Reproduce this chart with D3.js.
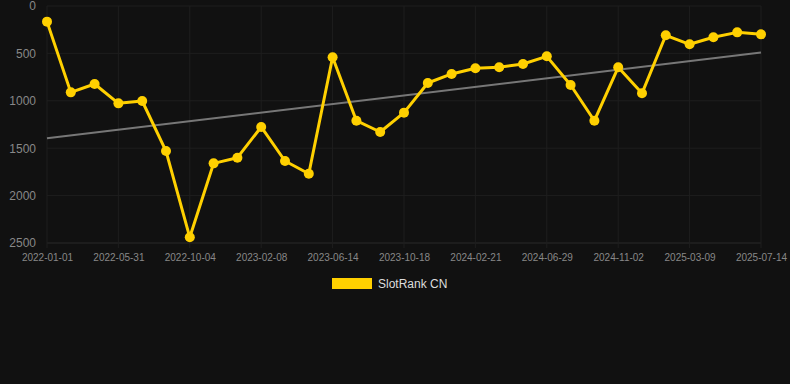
<!DOCTYPE html>
<html>
<head>
<meta charset="utf-8">
<script src="https://cdnjs.cloudflare.com/ajax/libs/d3/7.8.5/d3.min.js"></script>
<style>
    body { margin: 0; background: #111111; }
    svg { display: block; font-family: "Liberation Sans", Arial, sans-serif; }
</style>
</head>
<body>
<svg id="drawing_region"></svg>
<script>
// category dates (only every third one is labelled on the axis)
const dates = [
    "2022-01-01", "2022-02-20", "2022-04-10", "2022-05-31", "2022-07-11", "2022-08-22",
    "2022-10-04", "2022-11-15", "2022-12-27", "2023-02-08", "2023-03-23", "2023-05-03",
    "2023-06-14", "2023-07-26", "2023-09-06", "2023-10-18", "2023-11-29", "2024-01-10",
    "2024-02-21", "2024-04-03", "2024-05-16", "2024-06-29", "2024-08-10", "2024-09-21",
    "2024-11-02", "2024-12-14", "2025-01-25", "2025-03-09", "2025-04-20", "2025-06-01",
    "2025-07-14"
];
const rank = [
    165, 911, 823, 1027, 1002, 1530, 2440, 1660, 1600, 1276, 1635, 1769,
    541, 1210, 1329, 1125, 812, 717, 657, 647, 612, 531, 833, 1210,
    647, 921, 309, 404, 330, 278, 299
];
const yTicks = [0, 500, 1000, 1500, 2000, 2500];
const seriesName = "SlotRank CN";

const config = {
    width: 790,
    height: 384,
    margin: {top: 6, right: 29, bottom: 141, left: 47}
};

const svg = d3.select('#drawing_region')
    .attr('width', config.width)
    .attr('height', config.height);

const inner_width = config.width - config.margin.left - config.margin.right;
const inner_height = config.height - config.margin.top - config.margin.bottom;

const chart = svg.append('g')
    .attr('transform', `translate(${config.margin.left}, ${config.margin.top})`);

const xscale = d3.scalePoint()
    .domain(dates)
    .range([0, inner_width]);

const yscale = d3.scaleLinear()
    .domain([0, 2500])
    .range([0, inner_height]);

const labelled = dates.filter((d, i) => i % 3 === 0);

// grid
chart.append('g')
    .selectAll('line')
    .data(yTicks)
    .join('line')
    .attr('x1', 0)
    .attr('x2', inner_width)
    .attr('y1', d => yscale(d))
    .attr('y2', d => yscale(d))
    .attr('stroke', d => d === 2500 ? '#2a2a2a' : '#1e1e1e')
    .attr('stroke-width', 1);

chart.append('g')
    .selectAll('line')
    .data(labelled)
    .join('line')
    .attr('x1', d => xscale(d))
    .attr('x2', d => xscale(d))
    .attr('y1', 0)
    .attr('y2', inner_height + 5)
    .attr('stroke', '#1e1e1e')
    .attr('stroke-width', 1);

// axes
const yaxis = d3.axisLeft(yscale).tickValues(yTicks).tickSize(0).tickPadding(11)
    .tickFormat(d3.format('d'));
const yaxis_group = chart.append('g').call(yaxis);
yaxis_group.select('.domain').remove();
yaxis_group.selectAll('text')
    .attr('fill', '#888888')
    .attr('font-size', '12px')
    .attr('font-family', '"Liberation Sans", Arial, sans-serif');

const xaxis = d3.axisBottom(xscale).tickValues(labelled).tickSize(0).tickPadding(11);
const xaxis_group = chart.append('g')
    .attr('transform', `translate(0, ${inner_height})`)
    .call(xaxis);
xaxis_group.select('.domain').remove();
xaxis_group.selectAll('text')
    .attr('fill', '#888888')
    .attr('font-size', '10px')
    .attr('font-family', '"Liberation Sans", Arial, sans-serif');

// trend line (least squares over the index)
const n = rank.length;
const xs = d3.range(n);
const mx = d3.mean(xs);
const my = d3.mean(rank);
const slope = d3.sum(xs, i => (i - mx) * (rank[i] - my)) / d3.sum(xs, i => (i - mx) * (i - mx));
const icpt = my - slope * mx;

chart.append('line')
    .attr('x1', xscale(dates[0]))
    .attr('x2', xscale(dates[n - 1]))
    .attr('y1', yscale(icpt))
    .attr('y2', yscale(icpt + slope * (n - 1)))
    .attr('stroke', '#777777')
    .attr('stroke-width', 2);

// series
const line = d3.line()
    .x((d, i) => xscale(dates[i]))
    .y(d => yscale(d));

chart.append('path')
    .datum(rank)
    .attr('d', line)
    .attr('fill', 'none')
    .attr('stroke', '#FFD000')
    .attr('stroke-width', 3)
    .attr('stroke-linejoin', 'round');

chart.selectAll('circle')
    .data(rank)
    .join('circle')
    .attr('cx', (d, i) => xscale(dates[i]))
    .attr('cy', d => yscale(d))
    .attr('r', 5)
    .attr('fill', '#FFD000');

// legend
const legend = svg.append('g').attr('transform', 'translate(332, 278)');
legend.append('rect')
    .attr('width', 40)
    .attr('height', 11)
    .attr('fill', '#FFD000');
legend.append('text')
    .attr('x', 46)
    .attr('y', 6)
    .attr('dy', '0.35em')
    .attr('fill', '#dddddd')
    .attr('font-size', '12px')
    .text(seriesName);
</script>
</body>
</html>
